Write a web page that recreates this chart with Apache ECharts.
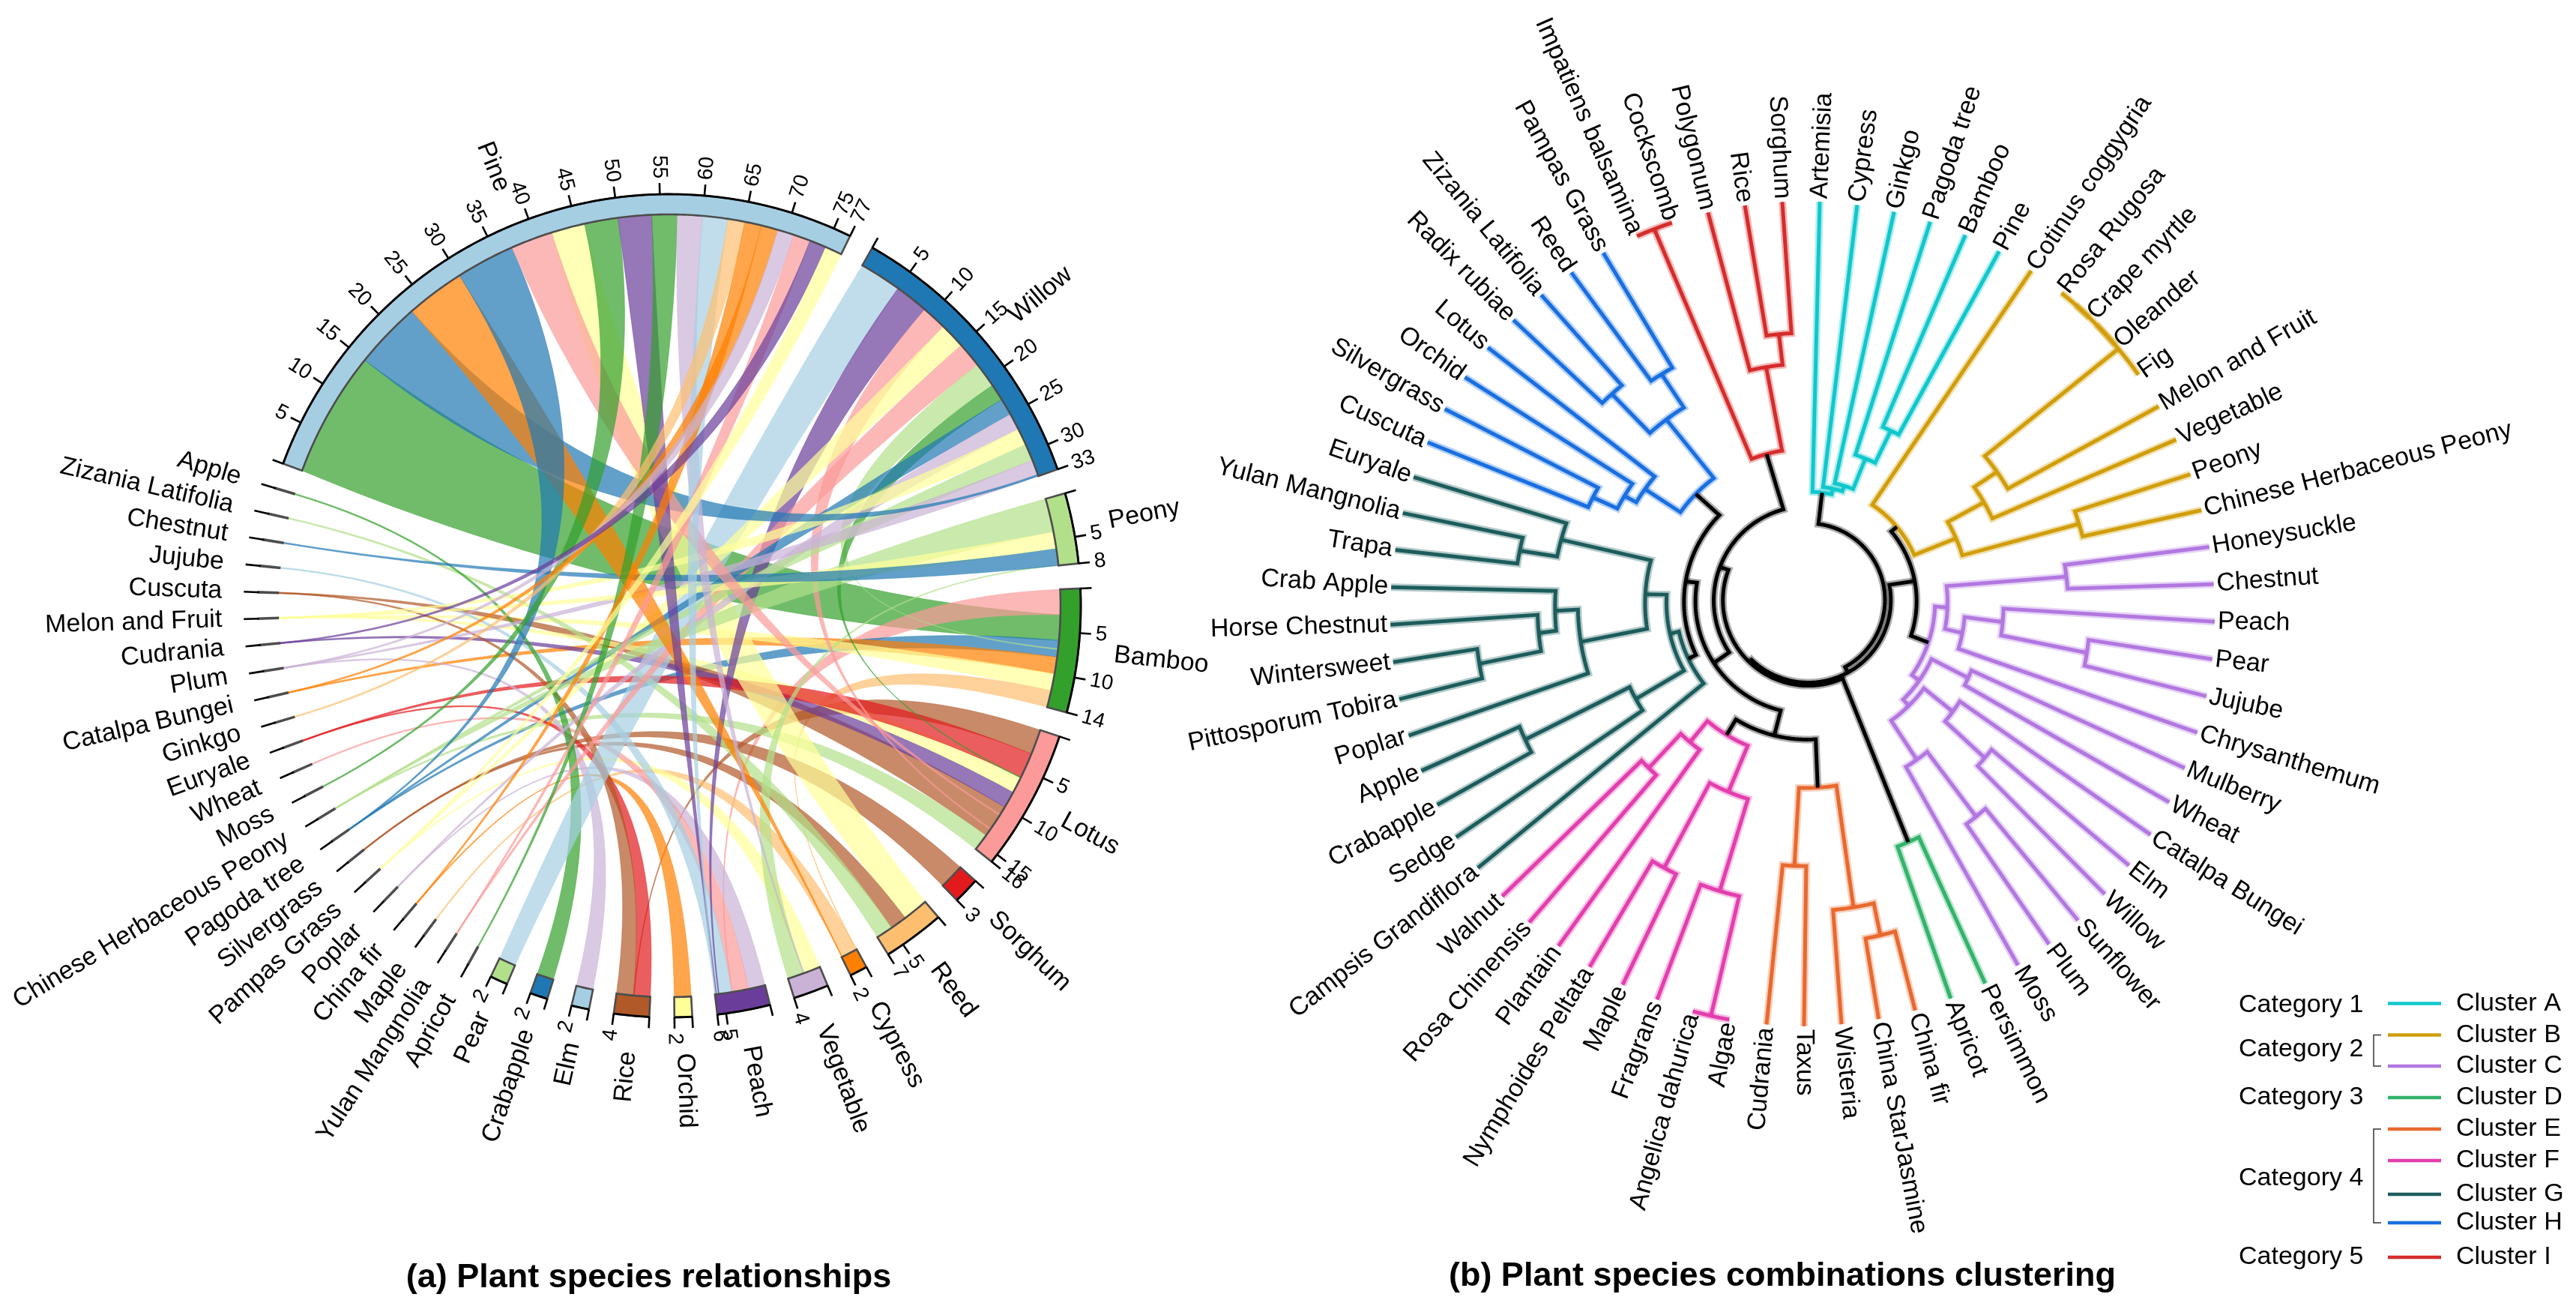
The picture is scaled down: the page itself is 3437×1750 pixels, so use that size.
<!DOCTYPE html>
<html><head><meta charset="utf-8">
<style>html,body{margin:0;padding:0;background:#fff}#c{width:3437px;height:1750px}</style>
<script src="https://cdn.jsdelivr.net/npm/echarts@6/dist/echarts.min.js"></script>
</head><body><div id="c"></div>
<script>
// ---------- panel (a): chord data ----------
const LB='#A6CEE3',BL='#1F78B4',LG='#B2DF8A',GR='#33A02C',PK='#FB9A99',RD='#E31A1C',LO='#FDBF6F',OR='#FF7F00',LV='#CAB2D6',PU='#6A3D9A',YE='#FFFF99',BR='#B15928';
const HAIR=0.15;
const sectorNames=['Pine','Willow','Peony','Bamboo','Lotus','Sorghum','Reed','Cypress','Vegetable','Peach','Orchid','Rice','Elm','Crabapple','Pear','Apricot','Yulan Mangnolia','Maple','China fir','Poplar','Pampas Grass','Silvergrass','Pagoda tree','Chinese Herbaceous Peony','Moss','Wheat','Euryale','Ginkgo','Catalpa Bungei','Plum','Cudrania','Melon and Fruit','Cuscuta','Jujube','Chestnut','Zizania Latifolia','Apple'];
const sectorValues=[77,33,8,14,16,3,7,2,4,6,2,4,2,2,2,HAIR,HAIR,HAIR,HAIR,HAIR,HAIR,HAIR,HAIR,HAIR,HAIR,HAIR,HAIR,HAIR,HAIR,HAIR,HAIR,HAIR,HAIR,HAIR,HAIR,HAIR,HAIR];
const sectorColors=[LB,BL,LG,GR,PK,RD,LO,OR,LV,PU,YE,BR,LB,BL,LG,GR,PK,LO,OR,LV,YE,BR,BL,LG,GR,PK,RD,LO,OR,LV,PU,YE,BR,LB,BL,LG,GR];
// [sector, from, to, sector, from, to, colour]
const T=HAIR;
const linkRows=[
['Pine',0,15,'Bamboo',3,6,GR],['Bamboo',0,3,'Peach',3.9,4,PK],['Bamboo',6,8,'Pagoda tree',0,T,BL],['Bamboo',8,10,'Catalpa Bungei',0,T,OR],['Bamboo',10,12,'Melon and Fruit',0,T,YE],['Bamboo',12,14,'Cypress',0,0.1,LO],
['Lotus',0,3,'Rice',1.9,2,BR],['Lotus',10,14,'Cuscuta',0,T,BR],['Lotus',14,16,'Chinese Herbaceous Peony',0,T,LG],['Lotus',6,8,'Melon and Fruit',0,T,YE],['Lotus',8,10,'Cudrania',0,T,PU],['Lotus',3,6,'Euryale',0,T,RD],
['Sorghum',0,3,'Silvergrass',0,T,BR],['Reed',0,3,'Pine',42,46,YE],['Reed',3,5,'Silvergrass',0,T,BR],['Reed',5,7,'Zizania Latifolia',0,T,LG],
['Cypress',0,2,'Maple',0,T,LO],['Vegetable',0,2,'Pampas Grass',0,T,YE],['Vegetable',2,4,'Peony',7.9,8,LG],
['Peach',0,2,'Poplar',0,T,LV],['Peach',2,4,'Wheat',0,T,PK],['Peach',4,6,'Jujube',0,T,LB],
['Orchid',0,2,'China fir',0,T,OR],['Rice',0,2,'Euryale',0,T,RD],['Rice',2,4,'Cuscuta',0,T,BR],['Elm',0,2,'Plum',0,T,LV],['Crabapple',0,2,'Apple',0,T,GR],
['Willow',0,5,'Pear',0,2,LB],['Willow',5,9,'Peach',5.5,5.6,PU],['Willow',9,12,'Lotus',13,13.15,PK],['Willow',12,15,'Pampas Grass',0,T,YE],['Willow',15,18,'Yulan Mangnolia',0,T,PK],['Willow',18,21,'Bamboo',7,7.1,LG],['Willow',21,23,'Lotus',6,6.1,GR],['Willow',23,25,'Pagoda tree',0,T,BL],['Willow',25,27,'Poplar',0,T,LV],['Willow',27,29,'Melon and Fruit',0,T,YE],['Willow',29,31,'Chinese Herbaceous Peony',0,T,LG],['Willow',31,33,'Plum',0,T,LV],
['Peony',0,4,'Chinese Herbaceous Peony',0,T,LG],['Peony',4,6,'Melon and Fruit',0,T,YE],['Peony',6,8,'Chestnut',0,T,BL],
['Pine',15,23,'Willow',32.8,33,BL],['Pine',23,30,'Cypress',1.9,2,OR],['Pine',30,37,'Pagoda tree',0,T,BL],['Pine',37,42,'Lotus',11,11.15,PK],['Pine',46,50,'Moss',0,T,GR],['Pine',50,54,'Peach',5.8,5.9,PU],['Pine',54,57,'Apricot',0,T,GR],['Pine',57,60,'Vegetable',2,2.1,LV],['Pine',60,63,'Peach',5.9,6,LB],['Pine',63,65,'Ginkgo',0,T,LO],['Pine',65,67,'China fir',0,T,OR],['Pine',67,69,'Catalpa Bungei',0,T,OR],['Pine',69,71,'Plum',0,T,LV],['Pine',71,73,'Yulan Mangnolia',0,T,PK],['Pine',73,75,'Cudrania',0,T,PU],['Pine',75,77,'Pampas Grass',0,T,YE]
];
// ---------- panel (b): dendrogram data, [radius, child, child] ----------
const clusterA=[146,'Artemisia',[154,'Cypress',[162,'Ginkgo',[208,'Pagoda tree',[258,'Bamboo','Pine']]]]];
const clusterB=[155,'Cotinus coggygria',[217,[274,[312,[550,[550,[550,'Rosa Rugosa','Crape myrtle'],'Oleander'],'Fig'],'Melon and Fruit'],'Vegetable'],[383,'Peony','Chinese Herbaceous Peony']]];
const clusterC=[170,[187,[351,'Honeysuckle','Chestnut'],[211,[263,'Peach',[381,'Pear','Jujube']],'Chrysanthemum']],[182,[237,'Mulberry','Wheat'],[193,[242,'Catalpa Bungei',[313,'Elm','Willow']],[254,[360,'Sunflower','Plum'],'Moss']]]];
const clusterD=[342,'Persimmon','Apricot'];
const clusterE=[245,[403,[445,'China fir','China StarJasmine'],'Wisteria'],[345,'Taxus','Cudrania']];
const clusterF=[206,[270,[393,[550,'Algae','Angelica dahurica'],'Fragrans'],[393,'Maple','Nymphoides Peltata']],[241,'Plantain',[301,'Rosa Chinensis','Walnut']]];
const clusterG=[176,'Campsis Grandiflora',[188,[260,'Sedge',[411,'Crabapple','Apple']],[216,[304,'Poplar',[334,[357,[439,'Pittosporum Tobira','Wintersweet'],'Horse Chestnut'],'Crab Apple']],[338,[388,'Trapa','Yulan Mangnolia'],'Euryale']]]];
const clusterH=[208,[265,[283,[319,'Cuscuta','Silvergrass'],'Orchid'],'Lotus'],[311,[385,'Radix rubiae','Zizania Latifolia'],[366,'Reed','Pampas Grass']]];
const clusterI=[206,[550,'Impatiens balsamina','Cockscomb'],[324,'Polygonum',[367,'Rice','Sorghum']]];
const clusterNames=['Cluster A','Cluster B','Cluster C','Cluster D','Cluster E','Cluster F','Cluster G','Cluster H','Cluster I'];
const clusterColors=['#10C8CC','#D19E0A','#B277E0','#33B36B','#E8692E','#E33EAE','#1D5C5C','#1A6FE0','#D62C2C'];
const categoryNames=['Category 1','Category 2','Category 3','Category 4','Category 5'];
const topTree=[102,'#0',[110,[145,'#1','#2'],[114,'#3',[126,[150,[183,'#4','#5'],[165,'#6','#7']],'#8']]]];
const titleA='(a) Plant species relationships', titleB='(b) Plant species combinations clustering';

// ---------- layout constants ----------
const FONT='"Liberation Sans", Arial, sans-serif';
const START=290.2, UNIT=1.245, GAP=(360-UNIT*sectorValues.reduce((a,b)=>a+b,0))/sectorNames.length;
const R_OUT=549,R_IN=522,R_TICK=15,R_TL=570,R_NAME=597;
const secStart=[];{let a=START;sectorValues.forEach(v=>{secStart.push(a);a+=v*UNIT+GAP;});}
const idx=n=>sectorNames.indexOf(n);
const angOf=(i,u)=>secStart[i]+u*UNIT;
const norm=a=>((a%360)+360)%360;
function radialText(pos,a,text,size){
  const d=norm(a), right=d<180;
  const rot=(right?90-d:270-d)*Math.PI/180;
  return {type:'text',x:pos[0],y:pos[1],rotation:rot,silent:true,
    style:{x:0,y:0,text:text,fill:'#000',font:size+'px '+FONT,align:right?'left':'right',verticalAlign:'middle',textAlign:right?'left':'right',textVerticalAlign:'middle'}};
}
function chordRibbon(params,api){
  const r=linkRows[params.dataIndex],ia=idx(r[0]),ib=idx(r[3]);
  const P=(rr,a)=>api.coord([rr,norm(a)]);
  let a0=angOf(ia,r[1]),a1=angOf(ia,r[2]),b0=angOf(ib,r[4]),b1=angOf(ib,r[5]);
  const c=api.coord([0,0]);
  const ma=norm((a0+a1)/2),mb=norm((b0+b1)/2);
  let cwSpan=norm(mb-ma);
  let mid=cwSpan<=180?ma+cwSpan/2:mb+(360-cwSpan)/2;
  const m=[Math.sin(mid*Math.PI/180),-Math.cos(mid*Math.PI/180)];
  const w=Math.min(r[2]-r[1],r[5]-r[4])*11.3*0.7;
  const sgn=cwSpan<=180?1:-1;
  const Cs=[c[0]+m[0]*w*sgn,c[1]+m[1]*w*sgn],Cl=[c[0]-m[0]*w*sgn,c[1]-m[1]*w*sgn];
  const pts=[];
  const arc=(x0,x1)=>{for(let i=0;i<=8;i++)pts.push(P(R_IN,x0+(x1-x0)*i/8));};
  const bez=(p,q,C)=>{for(let i=1;i<40;i++){const t=i/40,u=1-t;pts.push([u*u*p[0]+2*u*t*C[0]+t*t*q[0],u*u*p[1]+2*u*t*C[1]+t*t*q[1]]);}};
  arc(a0,a1); bez(P(R_IN,a1),P(R_IN,b0),Cs); arc(b0,b1); bez(P(R_IN,b1),P(R_IN,a0),Cl);
  return {type:'polygon',silent:true,shape:{points:pts},style:{fill:r[6],opacity:0.7,stroke:r[6],lineWidth:0.6}};
}
function chordSector(params,api){
  const i=params.dataIndex,v=sectorValues[i],a0=angOf(i,0),a1=angOf(i,v);
  const P=(rr,a)=>api.coord([rr,norm(a)]);
  const kids=[],band=[],outer=[];
  const n=Math.max(2,Math.ceil((a1-a0)/0.5));
  for(let k=0;k<=n;k++){const a=a0+(a1-a0)*k/n;band.push(P(R_OUT,a));outer.push(P(R_OUT,a));}
  for(let k=n;k>=0;k--){band.push(P(R_IN,a0+(a1-a0)*k/n));}
  const thin=v===HAIR;
  kids.push({type:'polygon',shape:{points:band},style:{fill:sectorColors[i],stroke:'#4d4d4d',lineWidth:thin?1.8:2.6}});
  kids.push({type:'polyline',shape:{points:outer},style:{fill:null,stroke:'#000',lineWidth:2.8}});
  const tick=(u,len)=>kids.push({type:'line',shape:{x1:P(R_OUT,angOf(i,u))[0],y1:P(R_OUT,angOf(i,u))[1],x2:P(R_OUT+len,angOf(i,u))[0],y2:P(R_OUT+len,angOf(i,u))[1]},style:{stroke:'#000',lineWidth:2.6}});
  if(thin){tick(v/2,19);}
  else{
    tick(0,R_TICK);
    const us=[];for(let u=5;u<v;u+=5)us.push(u);us.push(v);
    us.forEach(u=>{tick(u,R_TICK);kids.push(radialText(P(R_TL,angOf(i,u)),angOf(i,u),String(u),28));});
  }
  const am=(a0+a1)/2;
  kids.push(radialText(P(R_NAME,am),am,sectorNames[i],34));
  return {type:'group',children:kids};
}
// ---------- dendrogram layout ----------
const clusters=[clusterA,clusterB,clusterC,clusterD,clusterE,clusterF,clusterG,clusterH,clusterI];
const DSTART=2.4,DSTEP=360/69,R_LEAF=550;
const dNodes=[],dLeaves=[];let leafCount=0;
function walk(n,color){
  if(typeof n==='string'&&n[0]==='#'){const ci=+n.slice(1);return walk(clusters[ci],clusterColors[ci]);}
  if(typeof n==='string'){const a=DSTART+DSTEP*leafCount++;dLeaves.push({name:n,a:a});return {a:a,r:R_LEAF};}
  const kids=n.slice(1).map(k=>walk(k,color));
  const a=(kids[0].a+kids[kids.length-1].a)/2;
  dNodes.push({r:n[0],c0:kids[0],c1:kids[kids.length-1],color:color});
  return {a:a,r:n[0]};
}
walk(topTree,'#000');
const SHIFT=[8,-18.7];
function dPt(api,r,a){
  const p=api.coord([r,norm(a)]),f=Math.max(0,Math.min(1,(R_LEAF-r)/450));
  return [p[0]+SHIFT[0]*f,p[1]+SHIFT[1]*f];
}
function dendroItem(halo){return function(params,api){
  const n=dNodes[params.dataIndex],pts=[];
  pts.push(dPt(api,n.c0.r,n.c0.a));
  const steps=Math.max(1,Math.ceil((n.c1.a-n.c0.a)/1.5));
  for(let k=0;k<=steps;k++)pts.push(dPt(api,n.r,n.c0.a+(n.c1.a-n.c0.a)*k/steps));
  pts.push(dPt(api,n.c1.r,n.c1.a));
  return {type:'polyline',silent:true,shape:{points:pts},style:halo?{fill:null,stroke:n.color,opacity:0.32,lineWidth:10,lineJoin:'miter'}:{fill:null,stroke:n.color,lineWidth:5,lineJoin:'miter'}};
};}
function dendroLabel(params,api){
  const l=dLeaves[params.dataIndex];
  return radialText(api.coord([R_LEAF+4,norm(l.a)]),l.a,l.name,34);
}
// ---------- legend ----------
const legendX={line0:3186,line1:3257,text:3277,cat:2987,br0:3167,br1:3177};
const legendY=[1338.5,1380.5,1422,1464,1506,1548,1593,1631,1677];
const catY=[1341,1400,1464,1572,1677];
const txt=(x,y,s)=>({type:'text',x:x,y:y,silent:true,style:{text:s,fill:'#000',font:'34px '+FONT,textAlign:'left',textVerticalAlign:'middle',align:'left',verticalAlign:'middle'}});
const legendEls=[];
clusterNames.forEach((s,i)=>{
  legendEls.push({type:'line',silent:true,shape:{x1:legendX.line0,y1:legendY[i],x2:legendX.line1,y2:legendY[i]},style:{stroke:clusterColors[i],lineWidth:4.5}});
  legendEls.push(txt(legendX.text,legendY[i],s));
});
categoryNames.forEach((s,i)=>legendEls.push(txt(legendX.cat,catY[i],s)));
[[1380.5,1422],[1506,1631]].forEach(b=>legendEls.push({type:'polyline',silent:true,shape:{points:[[legendX.br1,b[0]],[legendX.br0,b[0]],[legendX.br0,b[1]],[legendX.br1,b[1]]]},style:{fill:null,stroke:'#333',lineWidth:1.5}}));

const axis=(pi,max)=>({angle:{polarIndex:pi,type:'value',min:0,max:360,startAngle:90,clockwise:true,show:false},radius:{polarIndex:pi,type:'value',min:0,max:max,show:false}});
const ax0=axis(0,R_OUT),ax1=axis(1,R_LEAF);
const seed=a=>a.map(()=>[1,1]);
const chart=echarts.init(document.getElementById('c'),null,{renderer:'canvas',width:3437,height:1750});
chart.setOption({
  animation:false,backgroundColor:'#fff',
  title:[
    {text:titleA,left:865.5,top:1682,textAlign:'center',padding:0,textStyle:{fontFamily:FONT,fontSize:45,fontWeight:'bold',color:'#000'}},
    {text:titleB,left:2378,top:1680,textAlign:'center',padding:0,textStyle:{fontFamily:FONT,fontSize:45,fontWeight:'bold',color:'#000'}}
  ],
  polar:[{center:[893,808],radius:R_OUT},{center:[2405,818.7],radius:R_LEAF}],
  angleAxis:[ax0.angle,ax1.angle],radiusAxis:[ax0.radius,ax1.radius],
  graphic:{elements:legendEls},
  series:[
    {type:'custom',coordinateSystem:'polar',polarIndex:0,silent:true,data:seed(linkRows),renderItem:chordRibbon,z:2},
    {type:'custom',coordinateSystem:'polar',polarIndex:0,silent:true,data:seed(sectorNames),renderItem:chordSector,z:3},
    {type:'custom',coordinateSystem:'polar',polarIndex:1,silent:true,data:seed(dNodes),renderItem:dendroItem(true),z:2},
    {type:'custom',coordinateSystem:'polar',polarIndex:1,silent:true,data:seed(dNodes),renderItem:dendroItem(false),z:3},
    {type:'custom',coordinateSystem:'polar',polarIndex:1,silent:true,data:seed(dLeaves),renderItem:dendroLabel,z:4}
  ]
});
</script></body></html>
